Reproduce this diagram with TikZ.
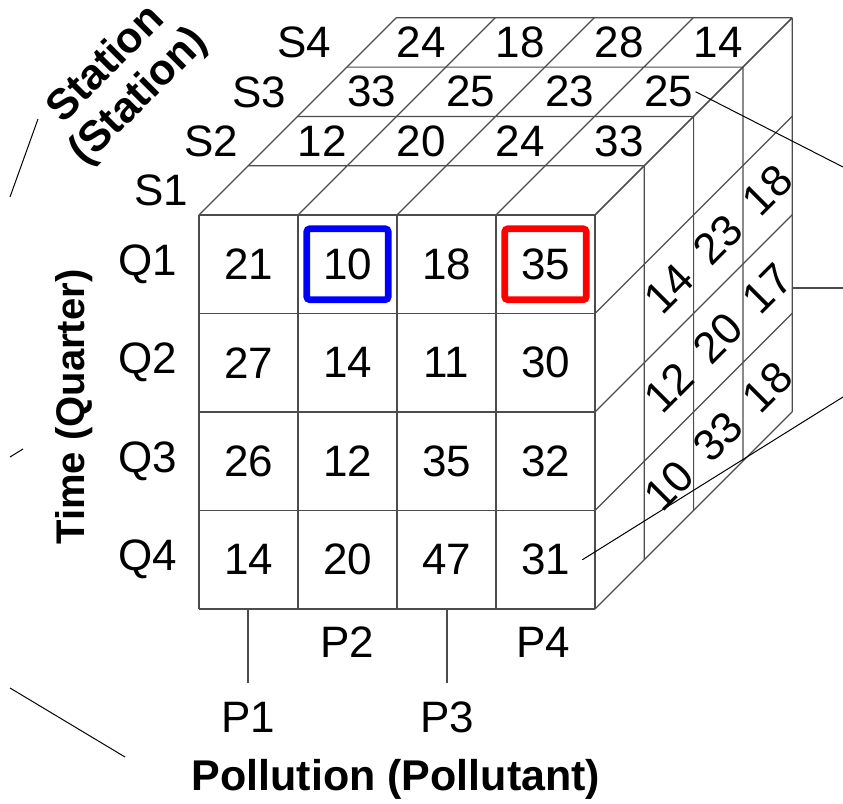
\documentclass[tikz,border=0pt]{standalone}
\usepackage{fontspec}
\setmainfont{Liberation Sans}
\begin{document}
\begin{tikzpicture}[x=0.5pt, y=-0.5pt,
        g/.style={draw=black!70, line width=0.6pt},
        l/.style={draw=black, line width=0.5pt},
        n/.style={font=\fontsize{22}{26}\selectfont, inner sep=1pt},
        r/.style={n, rotate=45},
        ax/.style={font=\fontsize{21.5}{23}\selectfont\bfseries, align=center},
        hl/.style={draw, line width=3.3pt, rounded corners=1.5pt, minimum width=40.75pt, minimum height=35.5pt}]
    \useasboundingbox (0,0) rectangle (843,804);

    % cube: x = pollutant, y = quarter, z = station
    \begin{scope}[shift={(199,215)}, x={(49.5pt,0pt)}, y={(0pt,-49.25pt)}, z={(24.65pt,24.65pt)}]
        \foreach \i in {0,...,4} {
            \draw[g] (\i,0,0) -- (\i,4,0) (0,\i,0) -- (4,\i,0);
            \draw[g] (\i,0,0) -- (\i,0,4) (0,0,\i) -- (4,0,\i);
            \draw[g] (4,\i,0) -- (4,\i,4) (4,0,\i) -- (4,4,\i);
        }
        % front face
        \node[n] (q1p1) at (0.5,0.5,0) {21}; \node[n, hl, draw=blue] (q1p2) at (1.5,0.5,0) {10};
        \node[n] (q1p3) at (2.5,0.5,0) {18}; \node[n, hl, draw=red] (q1p4) at (3.5,0.5,0) {35};
        \node[n] (q2p1) at (0.5,1.5,0) {27}; \node[n] (q2p2) at (1.5,1.5,0) {14};
        \node[n] (q2p3) at (2.5,1.5,0) {11}; \node[n] (q2p4) at (3.5,1.5,0) {30};
        \node[n] (q3p1) at (0.5,2.5,0) {26}; \node[n] (q3p2) at (1.5,2.5,0) {12};
        \node[n] (q3p3) at (2.5,2.5,0) {35}; \node[n] (q3p4) at (3.5,2.5,0) {32};
        \node[n] (q4p1) at (0.5,3.5,0) {14}; \node[n] (q4p2) at (1.5,3.5,0) {20};
        \node[n] (q4p3) at (2.5,3.5,0) {47}; \node[n] (q4p4) at (3.5,3.5,0) {31};
        % top face
        \node[n] (s2p1) at (0.5,0,1.5) {12}; \node[n] (s2p2) at (1.5,0,1.5) {20};
        \node[n] (s2p3) at (2.5,0,1.5) {24}; \node[n] (s2p4) at (3.5,0,1.5) {33};
        \node[n] (s3p1) at (0.5,0,2.5) {33}; \node[n] (s3p2) at (1.5,0,2.5) {25};
        \node[n] (s3p3) at (2.5,0,2.5) {23}; \node[n] (s3p4) at (3.5,0,2.5) {25};
        \node[n] (s4p1) at (0.5,0,3.5) {24}; \node[n] (s4p2) at (1.5,0,3.5) {18};
        \node[n] (s4p3) at (2.5,0,3.5) {28}; \node[n] (s4p4) at (3.5,0,3.5) {14};
        % right face
        \node[r] (q2s2) at (4,1.5,1.5) {14}; \node[r] (q3s2) at (4,2.5,1.5) {12}; \node[r] (q4s2) at (4,3.5,1.5) {10};
        \node[r] (q2s3) at (4,1.5,2.5) {23}; \node[r] (q3s3) at (4,2.5,2.5) {20}; \node[r] (q4s3) at (4,3.5,2.5) {33};
        \node[r] (q2s4) at (4,1.5,3.5) {18}; \node[r] (q3s4) at (4,2.5,3.5) {17}; \node[r] (q4s4) at (4,3.5,3.5) {18};
    \end{scope}

    \node[n] (q1) at (148,264) {Q1};
    \node[n] (q2) at (148,362.5) {Q2};
    \node[n] (q3) at (148,461) {Q3};
    \node[n] (q4) at (148,559.5) {Q4};
    \node[n] (s1) at (161,190.5) {S1};
    \node[n] (s2) at (211,141.5) {S2};
    \node[n] (s3) at (259,92) {S3};
    \node[n] (s4) at (304,42.5) {S4};
    \node[n] (p1) at (248,717) {P1};
    \node[n] (p2) at (347,642) {P2};
    \node[n] (p3) at (447,717) {P3};
    \node[n] (p4) at (543,642) {P4};
    \draw[g] (p1) ++(0,-34) -- +(0,-74);
    \draw[g] (p3) ++(0,-34) -- +(0,-74);

    \node[ax, rotate=90, font=\fontsize{20}{23}\selectfont\bfseries] (time) at (74,407) {Time (Quarter)};
    \node[ax] (poll) at (396,779) {Pollution (Pollutant)};
    \node[ax, rotate=45] (station) at (123,81) {Station\\(Station)};

    \coordinate (e1) at (843,167);
    \coordinate (e2a) at (792,288);
    \coordinate (e2) at (843,288);
    \coordinate (e3) at (843,397);
    \draw[l] (s3p4.east) -- (e1);
    \draw[g] (e2a) -- (e2);
    \draw[l] ([xshift=5pt]q4p4.east) -- (e3);
    \coordinate (a1) at (38,119);
    \coordinate (a2) at (10,197);
    \coordinate (b1) at (23,449);
    \coordinate (b2) at (10,457);
    \coordinate (c1) at (10,688);
    \coordinate (c2) at (125,757);
    \draw[l] (a1) -- (a2);
    \draw[l] (b1) -- (b2);
    \draw[l] (c1) -- (c2);
\end{tikzpicture}
\end{document}
